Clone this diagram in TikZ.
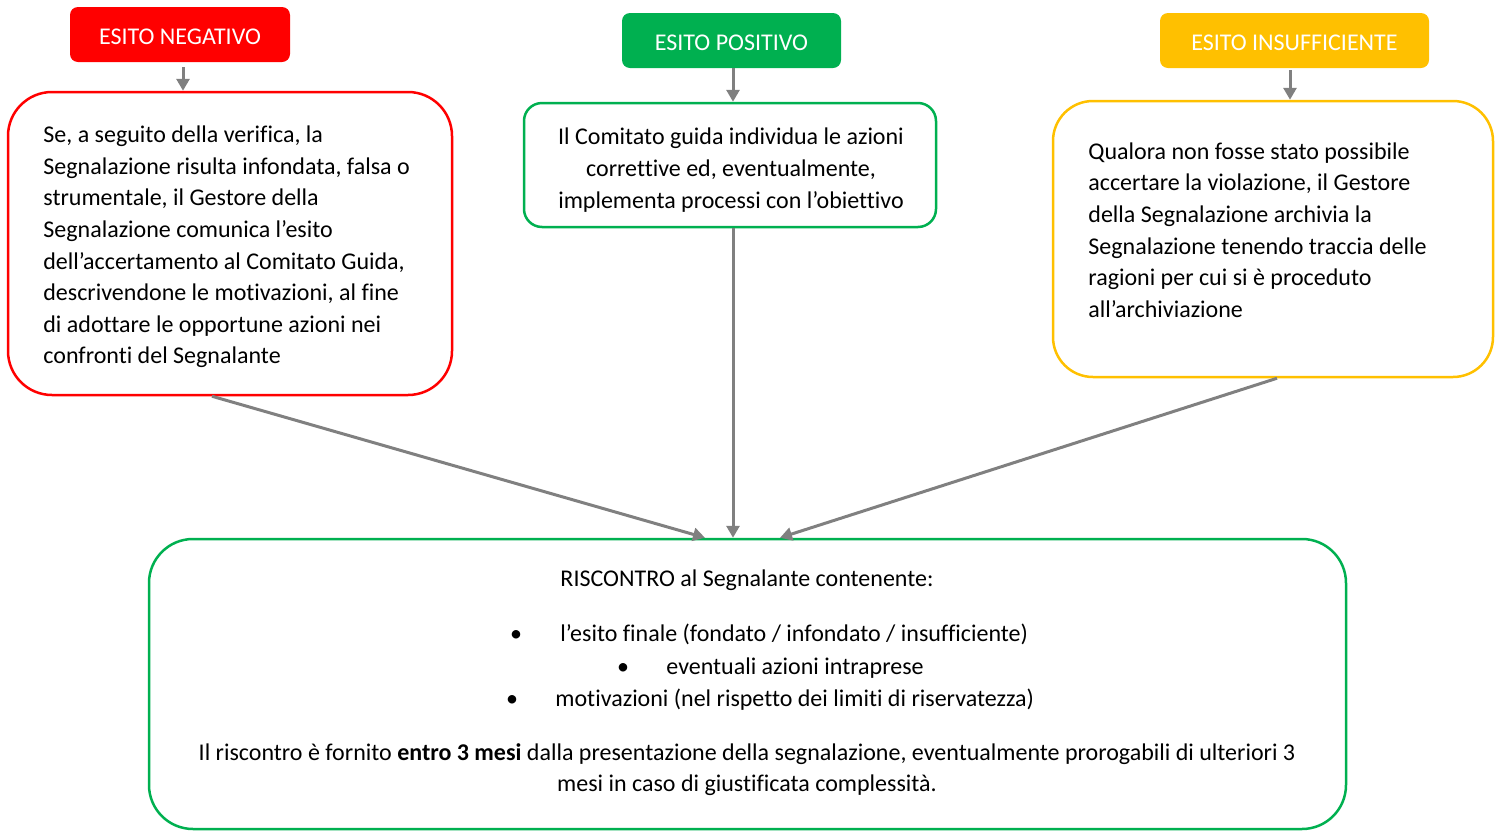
\documentclass[tikz,border=0pt]{standalone}
\usepackage{fontspec}
\setmainfont{Carlito}[Ligatures=NoCommon]
\usetikzlibrary{arrows.meta}
\definecolor{cred}{HTML}{FF0000}
\definecolor{cgreen}{HTML}{00B050}
\definecolor{cyellow}{HTML}{FFC000}
\definecolor{cgray}{HTML}{808080}
\begin{document}
\begin{tikzpicture}[x=0.5pt,y=-0.5pt,
  every node/.style={font=\fontsize{12}{15.8}\selectfont, inner sep=0pt},
  head/.style={rounded corners=4pt, text=white, minimum height=27.5pt, text height=0.97em, text depth=0pt},
  box/.style={draw, line width=1.25pt},
  txt/.style={align=left, text depth=0.25em, text height=0.7em},
  arr/.style={draw=cgray, line width=1.5pt, -{Triangle[length=6pt,width=6.5pt]}}
]
\useasboundingbox (0,0) rectangle (1496,831);
% headers
\node[head, fill=cred, minimum width=110pt] (neg) at (180,34.5) {ESITO NEGATIVO};
\node[head, fill=cgreen, minimum width=109.5pt] (pos) at (731.5,40.5) {ESITO POSITIVO};
\node[head, fill=cyellow, minimum width=134.5pt] (ins) at (1294.5,40.5) {ESITO INSUFFICIENTE};
% boxes
\node[box, draw=cred, rounded corners=22pt, minimum width=222pt, minimum height=151.5pt] (negbox) at (230,243.5) {};
\node[box, draw=cgreen, rounded corners=9pt, minimum width=206pt, minimum height=62pt] (posbox) at (730,165) {};
\node[box, draw=cyellow, rounded corners=20pt, minimum width=220pt, minimum height=138pt] (insbox) at (1273,239) {};
\node[box, draw=cgreen, rounded corners=22pt, minimum width=598.5pt, minimum height=145pt] (bot) at (747.5,684) {};
% box texts
\node[align=left, anchor=west] (negtxt) at (43,247) {Se, a seguito della verifica, la\\
Segnalazione risulta infondata, falsa o\\
strumentale, il Gestore della\\
Segnalazione comunica l’esito\\
dell’accertamento al Comitato Guida,\\
descrivendone le motivazioni, al fine\\
di adottare le opportune azioni nei\\
confronti del Segnalante};
\node[align=center] (postxt) at (731,170) {Il Comitato guida individua le azioni\\
correttive ed, eventualmente,\\
implementa processi con l’obiettivo};
\node[align=left, anchor=west] (instxt) at (1088,230) {Qualora non fosse stato possibile\\
accertare la violazione, il Gestore\\
della Segnalazione archivia la\\
Segnalazione tenendo traccia delle\\
ragioni per cui si è proceduto\\
all’archiviazione};
% bottom texts
\node[txt] (r0) at (747,582) {RISCONTRO al Segnalante contenente:};
\node[txt] (b1) at (516,637) {\textbullet};
\node[txt, anchor=west] (l1) at (560,637) {l’esito finale (fondato / infondato / insufficiente)};
\node[txt] (b2) at (623,670) {\textbullet};
\node[txt, anchor=west] (l2) at (666,670) {eventuali azioni intraprese};
\node[txt] (b3) at (512,702) {\textbullet};
\node[txt, anchor=west] (l3) at (555,702) {motivazioni (nel rispetto dei limiti di riservatezza)};
\node[txt] (r1) at (747,756) {Il riscontro è fornito \textbf{entro 3 mesi} dalla presentazione della segnalazione, eventualmente prorogabili di ulteriori 3};
\node[txt] (r2) at (747,787) {mesi in caso di giustificata complessità.};
% arrows
\draw[arr] ([xshift=1.5pt,yshift=-2.5pt]neg.south) -- ([xshift=1.5pt]neg.south |- negbox.north);
\draw[arr] ([xshift=0.75pt]pos.south) -- ([xshift=0.75pt]pos.south |- posbox.north);
\draw[arr] ([xshift=-2.25pt,yshift=-1pt]ins.south) -- ([xshift=-2.25pt]ins.south |- insbox.north);
\draw[arr] ([xshift=-9pt]negbox.south) -- ([xshift=-21.25pt]bot.north);
\draw[arr] ([xshift=1.5pt]posbox.south) -- ([xshift=-7.25pt]bot.north);
\draw[arr] ([xshift=2pt]insbox.south) -- ([xshift=16.25pt]bot.north);
\end{tikzpicture}
\end{document}
